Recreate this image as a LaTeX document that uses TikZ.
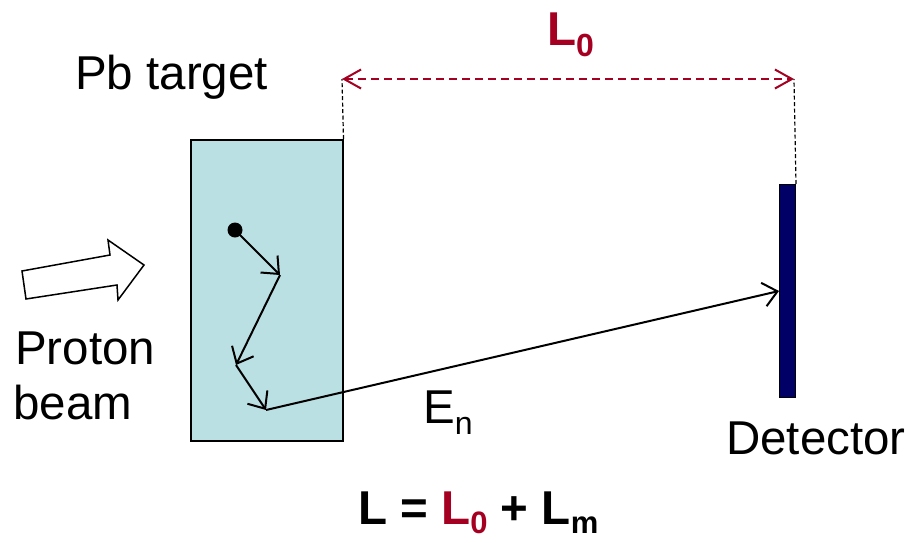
\documentclass[tikz,border=0pt]{standalone}
\usepackage{fontspec}
\setmainfont{Liberation Sans}
\usetikzlibrary{arrows.meta}
\definecolor{lred}{HTML}{A50021}
\definecolor{tcyan}{HTML}{BBE0E3}
\definecolor{dnavy}{HTML}{000066}
\newcommand{\lowsub}[1]{\raisebox{-11pt}{\fontsize{32}{32}\selectfont #1}}
\newcommand{\eqsub}[1]{\raisebox{-9pt}{\fontsize{31}{31}\selectfont #1}}
\tikzset{
  lbl/.style={font=\fontsize{47.5}{55}\selectfont, inner sep=0pt, anchor=base west},
  guide/.style={black, line width=1.2pt, dash pattern=on 4pt off 2.5pt},
  span/.style={lred, line width=2pt, dash pattern=on 8pt off 5pt,
    {Straight Barb[length=17pt,width=19pt]}-{Straight Barb[length=17pt,width=19pt]}},
  track/.style={black, line width=2pt, -{Straight Barb[length=14pt,width=24pt]}},
}
\begin{document}
\begin{tikzpicture}[x=1pt,y=-1pt]
\useasboundingbox (0,0) rectangle (908,542);
% target and detector
\node[draw, fill=tcyan, line width=1.5pt, minimum width=152pt, minimum height=301pt,
      inner sep=0pt, anchor=north west] (target) at (190,139) {};
\node[draw, fill=dnavy, line width=1pt, minimum width=16pt, minimum height=213pt,
      inner sep=0pt, anchor=north west] (detector) at (779,184) {};
% L0 span
\coordinate (lA) at (342,79);
\coordinate (lB) at (794,79);
\draw[guide] (target.north east) -- (lA);
\draw[guide] (detector.north east) -- (lB);
\draw[span] (lA) -- (lB);
% neutron track
\node[circle, fill=black, inner sep=0pt, minimum size=15pt] (dot) at (235,230) {};
\coordinate (p1) at (280,275);
\coordinate (p2) at (236,365);
\coordinate (p3) at (266,410);
\draw[track] (dot.center) -- (p1);
\draw[track] (p1) -- (p2);
\draw[track] (p2) -- (p3);
\draw[track] (p3) -- (detector.west);
% proton beam block arrow
\draw[line width=1.5pt, fill=white, line join=miter]
  (22,271) -- (110,255) -- (108,240) -- (144,265) -- (118,300) -- (117,285) -- (26,299) -- cycle;
% labels
\node[lbl] (pb) at (75,89) {Pb target};
\node[lbl] (proton) at (15,364) {Proton};
\node[lbl] (beam) at (13,419) {beam};
\node[lbl] (det) at (726,454) {Detector};
\node[lbl] (en) at (423,423) {E\lowsub{n}};
\node[lbl, text=lred] (l0) at (547,45) {\bfseries L\lowsub{0}};
\node[lbl] (eq) at (358,524) {\bfseries L = \textcolor{lred}{L\eqsub{0}} + L\eqsub{m}};
\end{tikzpicture}
\end{document}
